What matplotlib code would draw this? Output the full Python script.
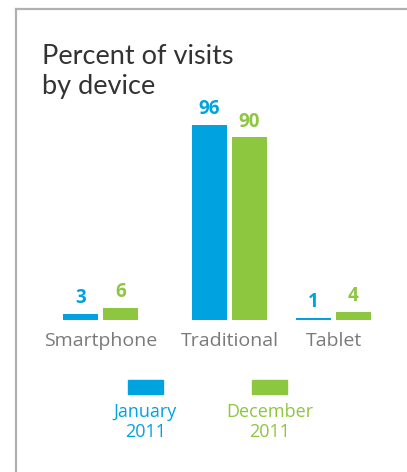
import matplotlib.pyplot as plt
from matplotlib.lines import Line2D

categories = ["Smartphone", "Traditional", "Tablet"]
jan_2011 = [3, 96, 1]
dec_2011 = [6, 90, 4]
series_labels = ["January\n2011", "December\n2011"]

BLUE = "#00a3e0"
GREEN = "#8dc63f"
W, H = 407, 472

fig = plt.figure(figsize=(W / 100, H / 100), dpi=100)
fig.patch.set_facecolor("white")

# frame lines (left + top)
fig.add_artist(Line2D([16 / W, 16 / W], [0, 1 - 9 / H], color="#b0b0b0", lw=1.6))
fig.add_artist(Line2D([16 / W, 1], [1 - 9 / H, 1 - 9 / H], color="#b0b0b0", lw=1.6))

fig.text(42 / W, 1 - 94 / H, "Percent of visits\nby device", fontsize=19.5,
         family="Lato", weight="normal", color="#333333", va="baseline",
         linespacing=1.25)

# bar axes: x in pixels, y in percent
base_px, top_px = 320, 125
ax = fig.add_axes([0, (H - base_px) / H, 1, (base_px - top_px) / H])
ax.set_xlim(0, W)
ax.set_ylim(0, 96)
ax.axis("off")

centers = [100.5, 229.5, 333.5]
bw = 35
gap = 5
xb = [c - gap / 2 - bw / 2 for c in centers]
xg = [c + gap / 2 + bw / 2 for c in centers]
bars_b = ax.bar(xb, jan_2011, width=bw, color=BLUE)
bars_g = ax.bar(xg, dec_2011, width=bw, color=GREEN)

for bars, vals, col in [(bars_b, jan_2011, BLUE), (bars_g, dec_2011, GREEN)]:
    for b, v in zip(bars, vals):
        ax.annotate(str(v), (b.get_x() + b.get_width() / 2, v),
                    xytext=(0, 4), textcoords="offset points", ha="center",
                    va="bottom", fontsize=13.5, weight="bold", family="Open Sans",
                    color=col, annotation_clip=False)

for c, name in zip(centers, categories):
    fig.text(c / W, 1 - 341 / H, name, ha="center", va="center", fontsize=14,
             family="Open Sans", color="#7a7a7a")

# legend
for cx, col, lab in [(145.5, BLUE, series_labels[0]), (269.5, GREEN, series_labels[1])]:
    fig.add_artist(plt.Rectangle(((cx - 17.5) / W, 1 - 394 / H), 35 / W, 14 / H,
                                 color=col, transform=fig.transFigure))
    fig.text(cx / W, 1 - 422 / H, lab, ha="center", va="center", fontsize=13,
             family="Open Sans", color=col, linespacing=1.1)

fig.savefig("out.png", dpi=100)
